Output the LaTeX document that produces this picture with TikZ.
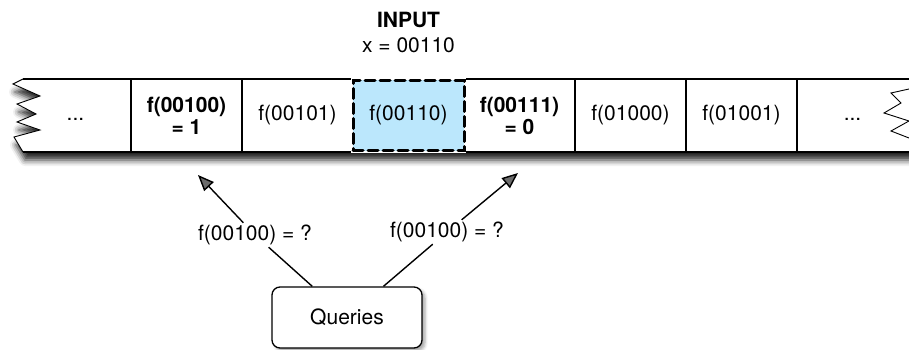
\documentclass[tikz,border=0pt]{standalone}
\usepackage{fontspec}
\setmainfont{TeX Gyre Heros}
\usetikzlibrary{positioning,arrows.meta,shadows.blur}
\definecolor{cellblue}{RGB}{187,231,252}

\tikzset{
    tape/.style={line width=1.4pt},
    torn/.style={line width=0.9pt, line join=miter},
    cell/.style={minimum width=111pt, minimum height=73pt, inner sep=0pt, outer sep=0pt,
        text height=15pt, text depth=4.5pt},
    valcell/.style={minimum width=111pt, minimum height=73pt, inner sep=0pt, outer sep=0pt,
        align=center, font=\fontsize{21}{22}\selectfont\bfseries},
    current/.style={cell, minimum height=70pt, fill=cellblue, line width=3pt,
        dash pattern=on 10pt off 5pt, line cap=round, draw,
        preaction={draw=white, line width=4pt, dash pattern=}},
    query/.style={fill=white, inner sep=2pt},
    querybox/.style={draw, line width=1.3pt, rounded corners=8pt, fill=white,
        minimum width=150pt, minimum height=61pt,
        blur shadow={shadow xshift=3pt, shadow yshift=-3pt, shadow blur radius=3pt, shadow opacity=35}}
}

\begin{document}
\begin{tikzpicture}[x=1pt, y=-1pt, font=\fontsize{21}{22}\selectfont,
    >={Triangle[length=16pt, width=13pt]}]
    \useasboundingbox (0,0) rectangle (909,350);

    % the tape, torn on the left
    \fill[white,
        blur shadow={shadow xshift=2pt, shadow yshift=-8pt, shadow blur radius=6pt, shadow opacity=85}]
        (23,79) -- (925,79) -- (925,152) -- (23,152) -- (14,137) -- (40,130) -- (17,122)
        -- (36,114) -- (17,104) -- (40,96) -- (13,84) -- cycle;
    \draw[tape] (23,79) -- (925,79);
    \draw[tape] (23,152) -- (925,152);
    \draw[torn] (23,152) -- (14,137) -- (40,130) -- (17,122) -- (36,114) -- (17,104)
        -- (40,96) -- (13,84) -- (23,79);
    \draw[torn] (909,89) -- (891,93) -- (901,103) -- (884,113) -- (909,121)
        -- (891,131) -- (909,138);

    \node[cell] (c1) at (75.5,115.5) {...};
    \node[valcell, right=0pt of c1] (c2) {f(00100)\\= 1};
    \node[cell, right=0pt of c2] (c3) {f(00101)};
    \node[current, right=0pt of c3] (c4) {f(00110)};
    \node[valcell, right=0pt of c4] (c5) {f(00111)\\= 0};
    \node[cell, right=0pt of c5] (c6) {f(01000)};
    \node[cell, right=0pt of c6] (c7) {f(01001)};
    \node[cell, right=0pt of c7] (c8) {...};

    \draw[tape] (c1.north east) -- (c1.south east);
    \draw[tape] (c2.north east) -- (c2.south east);
    \draw[tape] (c5.north east) -- (c5.south east);
    \draw[tape] (c6.north east) -- (c6.south east);
    \draw[tape] (c7.north east) -- (c7.south east);

    \node[align=center, inner sep=0pt, outer sep=0pt, above=28pt of c4,
        font=\fontsize{21}{25}\selectfont] (input) {\textbf{INPUT}\\x = 00110};

    % queries
    \node[querybox] (queries) at (347,317.5) {Queries};
    \node[query] (qleft) at (255,235) {f(00100) = ?};
    \node[query] (qright) at (447,232) {f(00100) = ?};
    \coordinate (tleft) at (198,175);
    \coordinate (tright) at (518,173);

    \draw[->, line width=1.4pt] (queries) -- (qleft) -- (tleft);
    \draw[->, line width=1.4pt] (queries) -- (qright) -- (tright);
\end{tikzpicture}
\end{document}
